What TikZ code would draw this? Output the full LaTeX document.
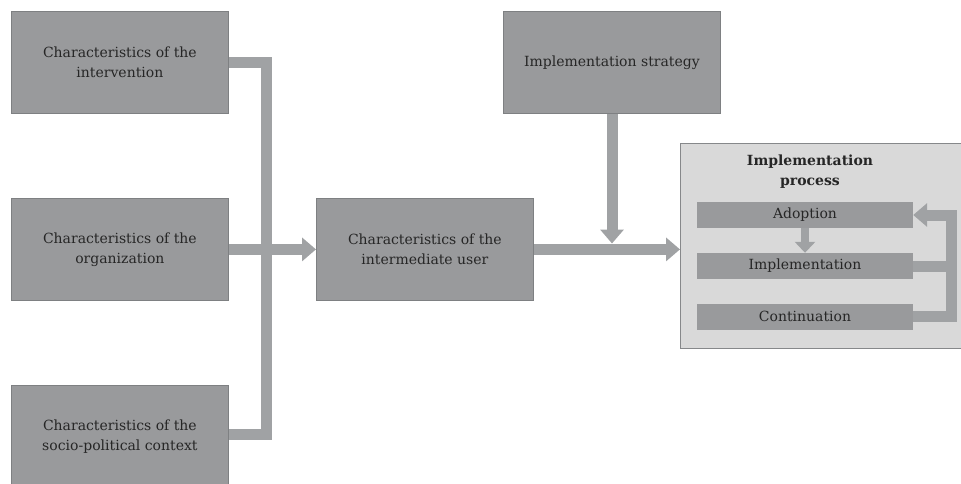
\documentclass[tikz,border=0pt]{standalone}
\usepackage{fontspec}
\setmainfont{DejaVu Serif}
\usetikzlibrary{arrows.meta}
\definecolor{boxfill}{HTML}{999A9C}
\definecolor{boxline}{HTML}{7E8082}
\definecolor{arrowc}{HTML}{A0A2A4}
\definecolor{procfill}{HTML}{D9D9D9}
\definecolor{procline}{HTML}{86888A}
\definecolor{txt}{HTML}{262626}
\begin{document}
\begin{tikzpicture}[x=1pt,y=-1pt,
  box/.style={draw=boxline, fill=boxfill, line width=0.8pt, text=txt,
    font=\fontsize{14}{20}\selectfont, align=center, inner sep=0pt,
    minimum width=217pt, minimum height=102pt, anchor=north west},
  bar/.style={fill=boxfill, text=txt, font=\fontsize{14}{20}\selectfont,
    inner sep=0pt, minimum width=216pt, minimum height=26pt},
  procbox/.style={draw=procline, fill=procfill, line width=0.8pt,
    minimum width=285pt, minimum height=205pt, anchor=north west, inner sep=0pt},
  flow/.style={draw=arrowc, line width=11pt, line join=miter},
  tip/.style={-{Triangle[width=23pt,length=14pt]}},
  smalltip/.style={line width=8pt, -{Triangle[width=20pt,length=11pt]}}
]
\path[use as bounding box] (0,0) rectangle (961,484);
\clip (0,0) rectangle (961,484);

% boxes
\node[box] (b1) at (11,11) {Characteristics of the\\intervention};
\node[box] (b2) at (11,198) {Characteristics of the\\organization};
\node[box] (b3) at (11,385) {Characteristics of the\\socio-political context};
\node[box] (u) at (316,198) {Characteristics of the\\intermediate user};
\node[box] (s) at (503,11) {Implementation strategy};
\node[procbox] (p) at (680,143) {};
\node[text=txt, font=\bfseries\fontsize{14}{20}\selectfont, align=center] (pt) at (810,172) {Implementation\\process};
\node[bar] (a) at (805,215) {Adoption};
\node[bar] (i) at (805,266) {Implementation};
\node[bar] (c) at (805,316.5) {Continuation};

% junction coordinates
\coordinate (j1) at (266,63);
\coordinate (j3) at (266,434);
\coordinate (sj) at (612,243.5);
\coordinate (lr) at (951,0);

% connectors
\draw[flow] (j1 -| b1.east) -- (j1) -- (j3) -- (j3 -| b3.east);
\draw[flow,tip] (b2.east) -- (u.west);
\draw[flow,tip] (u.east) -- (u.east -| p.west);
\draw[flow,tip] (s.south -| sj) -- (sj);
\draw[flow,smalltip] (a.south) -- (i.north);
\draw[flow,tip] (c.east) -- (c.east -| lr) -- (a.east -| lr) -- (a.east);
\draw[flow] (i.east) -- (i.east -| lr);
\end{tikzpicture}
\end{document}
